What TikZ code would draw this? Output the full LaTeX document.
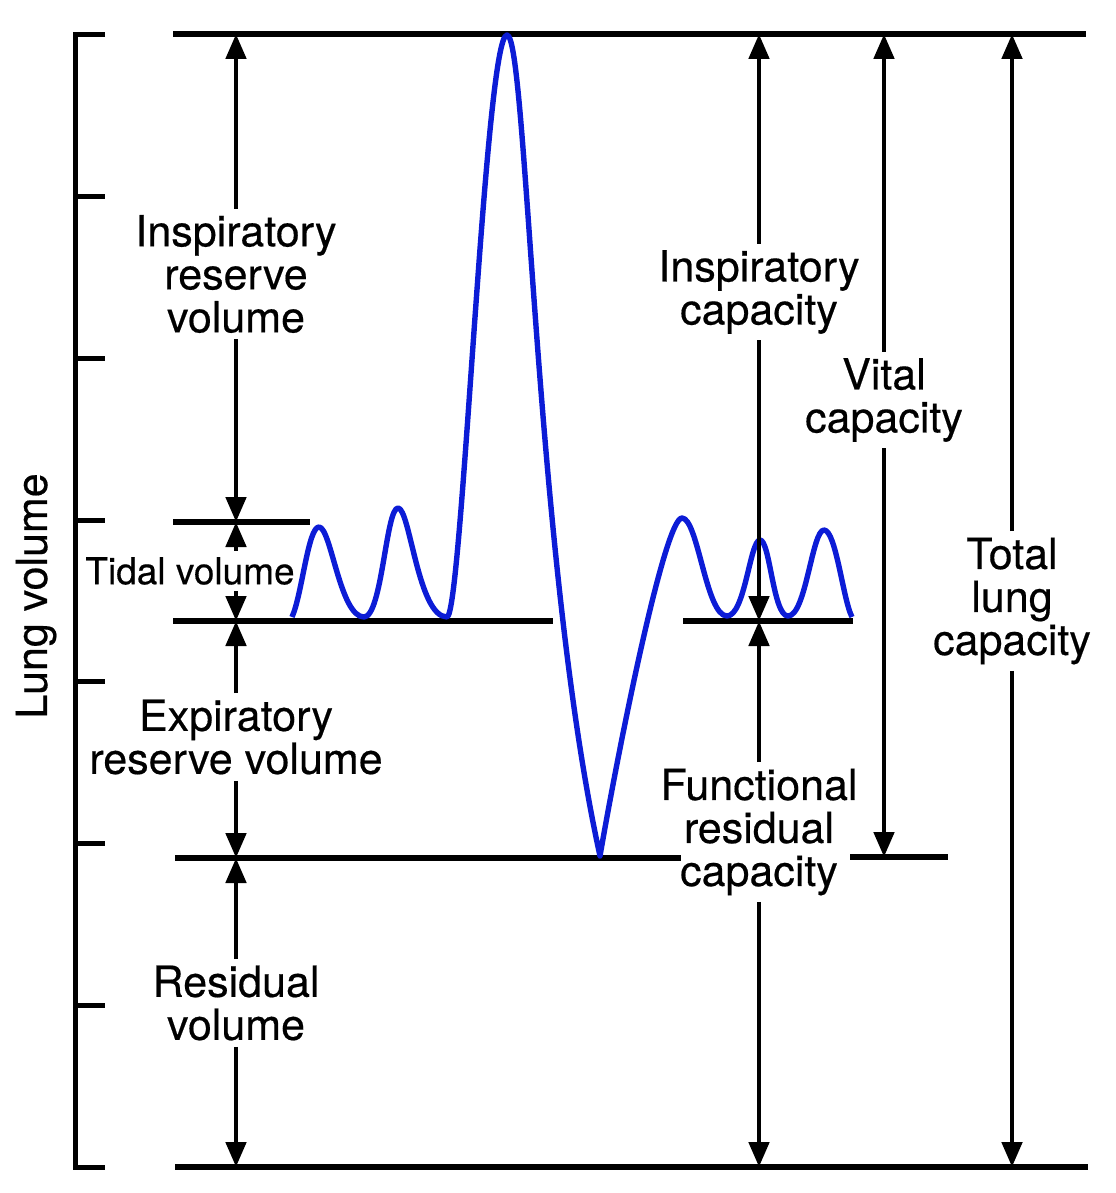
\documentclass[tikz,border=0pt]{standalone}
\usepackage{fontspec}
\setmainfont[FakeBold=0.4]{TeX Gyre Heros}
\usetikzlibrary{arrows.meta}
\definecolor{breath}{RGB}{12,28,214}

\begin{document}
\begin{tikzpicture}[x=0.5pt,y=-0.5pt,
  lvl/.style={line width=3pt},
  tick/.style={line width=2.5pt},
  arr/.style={line width=2.4pt,-{Triangle[length=12.5pt,width=10pt]}},
  lbl/.style={align=center,inner sep=3pt,font=\fontsize{21.5}{21.5}\selectfont}]
\useasboundingbox (0,0) rectangle (1115,1193);
\draw[tick] (105,35) -- (75,35) -- (75,1167) -- (105,1167);
\foreach \k in {1,...,6}
  \draw[tick] (75,35+161.7*\k) -- (105,35+161.7*\k);
\draw[lvl] (173,34) -- (1086,34);
\draw[lvl] (173,522) -- (310,522);
\draw[lvl] (173,621) -- (553,621);
\draw[lvl] (683,621) -- (853,621);
\draw[lvl] (175,858) -- (681,858);
\draw[lvl] (850,857) -- (948,857);
\draw[lvl] (175,1167) -- (1088,1167);
\coordinate (c1top) at (236,34);
\coordinate (c1tv) at (236,522);
\coordinate (c1frc) at (236,621);
\coordinate (c1rv) at (236,858);
\coordinate (c1bot) at (236,1167);
\coordinate (c2top) at (759,34);
\coordinate (c2frc) at (759,621);
\coordinate (c2bot) at (759,1167);
\coordinate (c3top) at (884,34);
\coordinate (c3rv) at (884,857);
\coordinate (c4top) at (1012,34);
\coordinate (c4bot) at (1012,1167);
\draw[breath,line width=2.7pt,line join=round] (292,617) .. controls (302,595) and (308,527) .. (319,527)
  .. controls (331,527) and (340,617) .. (364,617)
  .. controls (382,617) and (386,508) .. (398,508)
  .. controls (410,508) and (418,617) .. (447,617)
  .. controls (462,617) and (485,35) .. (507,35)
  .. controls (527,35) and (535,560) .. (600,856)
  .. controls (620,740) and (665,518) .. (682,518)
  .. controls (698,518) and (706,616) .. (727,616)
  .. controls (745,616) and (750,540) .. (760,540)
  .. controls (770,540) and (773,616) .. (788,616)
  .. controls (806,616) and (812,530) .. (824,530)
  .. controls (836,530) and (843,600) .. (852,617);
\node[lbl] (irv) at (236,274) {Inspiratory\\reserve\\volume};
\node[lbl,font=\fontsize{18.5}{18.5}\selectfont] (tv) at (190,571) {Tidal volume};
\node[lbl] (erv) at (236,737) {Expiratory\\reserve volume};
\node[lbl] (rv) at (236,1003) {Residual\\volume};
\node[lbl] (ic) at (759,292) {Inspiratory\\capacity};
\node[lbl] (vc) at (884,400) {Vital\\capacity};
\node[lbl] (tlc) at (1012,601) {Total\\lung\\capacity};
\node[lbl] (frc) at (759,832) {Functional\\residual\\capacity};
\node[lbl,rotate=90] (lv) at (36,596) {Lung volume};
\draw[arr] (irv) -- (c1top);
\draw[arr] (irv) -- (c1tv);
\draw[arr] (tv.north -| c1tv) -- (c1tv);
\draw[arr] (tv.south -| c1frc) -- (c1frc);
\draw[arr] (erv) -- (c1frc);
\draw[arr] (erv) -- (c1rv);
\draw[arr] (rv) -- (c1rv);
\draw[arr] (rv) -- (c1bot);
\draw[arr] (ic) -- (c2top);
\draw[arr] (ic) -- (c2frc);
\draw[arr] (frc) -- (c2frc);
\draw[arr] (frc) -- (c2bot);
\draw[arr] (vc) -- (c3top);
\draw[arr] (vc) -- (c3rv);
\draw[arr] (tlc) -- (c4top);
\draw[arr] (tlc) -- (c4bot);
\end{tikzpicture}
\end{document}
